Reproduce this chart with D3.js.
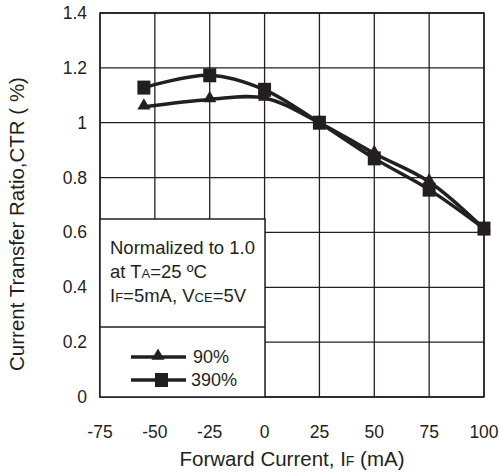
<!DOCTYPE html>
<html>
<head>
<meta charset="utf-8">
<script src="https://cdn.jsdelivr.net/npm/d3@7/dist/d3.min.js"></script>
<style>
  html, body { margin: 0; padding: 0; background: #fff; }
  svg { display: block; }
  text { font-family: "Liberation Sans", Arial, Helvetica, sans-serif; fill: #231f20; }
</style>
</head>
<body>
<svg id="chart" width="499" height="475"></svg>
<script>
// ---- data ----
const xTicks = [-75, -50, -25, 0, 25, 50, 75, 100];
const yTicks = [0, 0.2, 0.4, 0.6, 0.8, 1.0, 1.2, 1.4];
const yTickLabels = ["0", "0.2", "0.4", "0.6", "0.8", "1", "1.2", "1.4"];
const currents = [-55, -25, 0, 25, 50, 75, 100];
const ctr90 = [1.058, 1.085, 1.09, 1.0, 0.888, 0.785, 0.613];
const ctr390 = [1.128, 1.173, 1.12, 1.0, 0.87, 0.756, 0.614];
const seriesNames = ["90%", "390%"];

const ink = "#231f20";
const svg = d3.select("#chart");
const L = 100, R = 484, T = 13, B = 397;

const x = d3.scaleLinear().domain([-75, 100]).range([L, R]);
const y = d3.scaleLinear().domain([0, 1.4]).range([B, T]);

// grid
const g = svg.append("g");
g.selectAll("line.vg").data(xTicks).enter().append("line")
  .attr("x1", d => x(d)).attr("x2", d => x(d)).attr("y1", T).attr("y2", B)
  .attr("stroke", ink).attr("stroke-width", 1.3);
g.selectAll("line.hg").data(yTicks).enter().append("line")
  .attr("x1", L).attr("x2", R).attr("y1", d => y(d)).attr("y2", d => y(d))
  .attr("stroke", ink).attr("stroke-width", 1.3);
g.append("rect").attr("x", L).attr("y", T).attr("width", R - L).attr("height", B - T)
  .attr("fill", "none").attr("stroke", ink).attr("stroke-width", 1.5);

// tick labels
svg.selectAll("text.xt").data(xTicks).enter().append("text")
  .attr("x", d => x(d)).attr("y", 438).attr("text-anchor", "middle")
  .attr("font-size", 17.5).text(d => d);
svg.selectAll("text.yt").data(yTicks).enter().append("text")
  .attr("x", 87).attr("y", d => y(d) + 6).attr("text-anchor", "end")
  .attr("font-size", 17.5).text((d, i) => yTickLabels[i]);

// axis titles
const xt = svg.append("text").attr("x", 292).attr("y", 466).attr("text-anchor", "middle").attr("font-size", 20.5);
xt.append("tspan").text("Forward Current, I");
xt.append("tspan").attr("font-size", 14).text("F");
xt.append("tspan").text(" (mA)");

svg.append("text").attr("transform", "translate(24,224) rotate(-90)")
  .attr("text-anchor", "middle").attr("font-size", 20.5)
  .text("Current Transfer Ratio,CTR ( %)");

// series lines
const line = d3.line().x((d, i) => x(currents[i])).y(d => y(d)).curve(d3.curveCatmullRom.alpha(0.5));
svg.append("path").datum(ctr90).attr("d", line).attr("fill", "none").attr("stroke", ink).attr("stroke-width", 3.5);
svg.append("path").datum(ctr390).attr("d", line).attr("fill", "none").attr("stroke", ink).attr("stroke-width", 3.5);

const tri = d3.symbol().type(d3.symbolTriangle).size(75);
svg.selectAll("path.tri").data(ctr90).enter().append("path")
  .attr("d", tri).attr("transform", (d, i) => `translate(${x(currents[i])},${y(d) - 1})`).attr("fill", ink);
svg.selectAll("rect.sq").data(ctr390).enter().append("rect")
  .attr("x", (d, i) => x(currents[i]) - 6.5).attr("y", d => y(d) - 7)
  .attr("width", 13).attr("height", 14).attr("fill", ink);

// legend / note box
const lg = svg.append("g");
lg.append("rect").attr("x", L).attr("y", 219).attr("width", 165).attr("height", B - 219)
  .attr("fill", "#fff").attr("stroke", ink).attr("stroke-width", 1.5);
lg.append("line").attr("x1", L).attr("x2", 265).attr("y1", 327).attr("y2", 327)
  .attr("stroke", ink).attr("stroke-width", 1.3);

lg.append("text").attr("x", 110).attr("y", 254).attr("font-size", 18.5).text("Normalized to 1.0");
const t2 = lg.append("text").attr("x", 110).attr("y", 278).attr("font-size", 18.5);
t2.append("tspan").text("at T");
t2.append("tspan").attr("font-size", 13).text("A");
t2.append("tspan").text("=25 ºC");
const t3 = lg.append("text").attr("x", 110).attr("y", 302).attr("font-size", 18.5);
t3.append("tspan").text("I");
t3.append("tspan").attr("font-size", 13).text("F");
t3.append("tspan").text("=5mA, V");
t3.append("tspan").attr("font-size", 13).text("CE");
t3.append("tspan").text("=5V");

// legend entries
const legY = [357, 380];
lg.selectAll("line.ll").data(seriesNames).enter().append("line")
  .attr("x1", 131).attr("x2", 186).attr("y1", (d, i) => legY[i]).attr("y2", (d, i) => legY[i])
  .attr("stroke", ink).attr("stroke-width", 3.5);
lg.append("path").attr("d", tri).attr("transform", `translate(158,${legY[0] - 1})`).attr("fill", ink);
lg.append("rect").attr("x", 155).attr("y", legY[1] - 7).attr("width", 13).attr("height", 14).attr("fill", ink);
lg.selectAll("text.lt").data(seriesNames).enter().append("text")
  .attr("x", (d, i) => i === 0 ? 193 : 191).attr("y", (d, i) => legY[i] + 6)
  .attr("font-size", 18).text(d => d);
</script>
</body>
</html>
